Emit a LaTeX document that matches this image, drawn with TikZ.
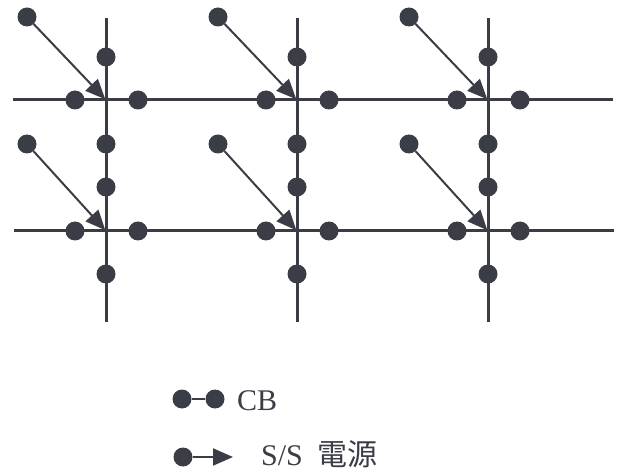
\documentclass[tikz,border=0pt]{standalone}
\usepackage{fontspec}
\setmainfont{Liberation Serif}
\newfontfamily\cjk{Noto Sans CJK JP}
\usetikzlibrary{arrows.meta}
\definecolor{ink}{RGB}{58,60,70}
\begin{document}
\begin{tikzpicture}[x=1pt,y=-1pt,
  dot/.style={circle,fill=ink,minimum size=19pt,inner sep=0pt},
  gridline/.style={ink,line width=3pt},
  feed/.style={ink,line width=2pt,-{Triangle[length=20pt,width=17pt]},shorten >=1pt},
  lbl/.style={anchor=west,inner sep=0pt,text=ink,font=\fontsize{30}{34}\selectfont}]
\useasboundingbox (0,0) rectangle (624,473);
% grid lines
\foreach \X [count=\i] in {106,297,488} {
  \coordinate (vt\i) at (\X,18);
  \coordinate (vb\i) at (\X,322);
  \draw[gridline] (vt\i) -- (vb\i);
}
\coordinate (h1l) at (13,100); \coordinate (h1r) at (613,100);
\coordinate (h2l) at (14,231); \coordinate (h2r) at (614,231);
\draw[gridline] (h1l) -- (h1r);
\draw[gridline] (h2l) -- (h2r);
% cells
\foreach \X [count=\i] in {106,297,488} {
  \foreach \Y/\Ys [count=\j] in {100/17,231/144} {
    \coordinate (c\i\j) at (\X,\Y);
    \node[dot] (s\i\j) at (\X-79,\Ys) {};
    \draw[feed] (s\i\j) -- (c\i\j);
    \node[dot] (l\i\j) at (\X-31,\Y) {};
    \node[dot] (r\i\j) at (\X+32,\Y) {};
  }
  \node[dot] (a\i) at (\X,57) {};
  \node[dot] (b\i) at (\X,144) {};
  \node[dot] (d\i) at (\X,187) {};
  \node[dot] (e\i) at (\X,274) {};
}
% legend
\node[dot] (k1) at (182,399) {};
\node[dot] (k2) at (215,399) {};
\draw[ink,line width=2.5pt] (k1) -- (k2);
\node[lbl] (tcb) at (237,401) {CB};
\node[dot] (k3) at (183,457) {};
\coordinate (k4) at (234,457);
\draw[feed] (k3) -- (k4);
\node[lbl] (tss) at (261,454) {S/S\hspace{0.5em}{\cjk 電源}};
\end{tikzpicture}
\end{document}
